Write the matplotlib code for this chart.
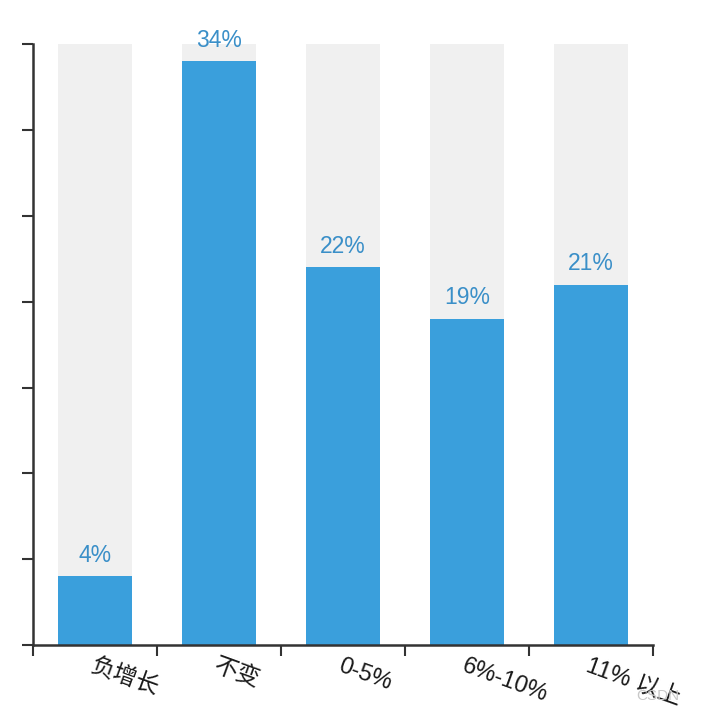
import numpy as np
import matplotlib.pyplot as plt

plt.rcParams['font.family'] = ['Liberation Sans', 'Noto Sans CJK SC', 'DejaVu Sans']

categories = ["负增长", "不变", "0-5%", "6%-10%", "11% 以上"]
values = [4, 34, 22, 19, 21]
value_labels = ["4%", "34%", "22%", "19%", "21%"]
ymax = 35

BAR_COLOR = "#3a9fdc"
BG_COLOR = "#f0f0f0"
AXIS_COLOR = "#333333"

fig = plt.figure(figsize=(7.02, 7.24), dpi=100)
ax = fig.add_axes([0.047, 0.109, 0.883, 0.830])

x = np.arange(len(categories))
ax.bar(x, [ymax] * len(x), width=0.6, color=BG_COLOR, zorder=1)
ax.bar(x, values, width=0.6, color=BAR_COLOR, zorder=2)

for xi, v, lab in zip(x, values, value_labels):
    ax.annotate(lab, (xi, v), xytext=(0, 7), textcoords="offset points",
                ha="center", va="bottom", fontsize=16.5, color="#3a8fc8", zorder=3)

ax.set_xlim(-0.5, len(x) - 0.5)
ax.set_ylim(0, ymax)

# boundaries get tick marks, centres get the labels
ax.set_xticks(np.arange(-0.5, len(x), 1.0))
ax.set_xticklabels([])
ax.set_xticks(x, minor=True)
ax.set_xticklabels(categories, minor=True, rotation=-20, ha="left",
                   rotation_mode="anchor", fontsize=17, color="#1a1a1a")
ax.tick_params(axis="x", which="minor", length=0, pad=7)
ax.tick_params(axis="x", which="major", length=8, width=1.5, color=AXIS_COLOR)

ax.set_yticks(np.arange(0, ymax + 1, 5))
ax.set_yticklabels([])
ax.tick_params(axis="y", length=8, width=1.5, color=AXIS_COLOR)

for side in ["top", "right"]:
    ax.spines[side].set_visible(False)
for side in ["left", "bottom"]:
    ax.spines[side].set_color(AXIS_COLOR)
    ax.spines[side].set_linewidth(1.8)

fig.text(0.968, 0.039, "CSDN", ha="right", va="center", fontsize=11, color="#c8c8c8")

plt.savefig("out.png", dpi=100)
plt.close()
